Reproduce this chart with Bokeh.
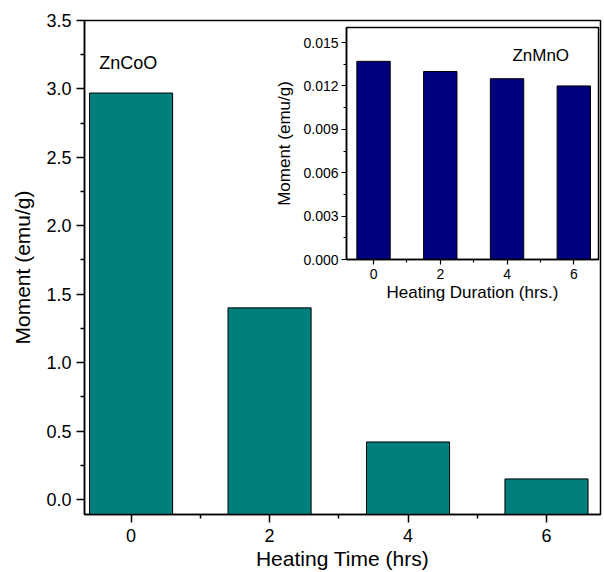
from bokeh.plotting import figure
from bokeh.models import Range1d, FixedTicker, Label
from bokeh.layouts import column
from bokeh.embed import file_html
from bokeh.resources import INLINE

# ---- data ----
hours = [0, 2, 4, 6]
zncoo_moment = [2.97, 1.40, 0.42, 0.15]
znmno_moment = [0.0137, 0.0130, 0.0125, 0.0120]
main_xticks = [0, 2, 4, 6]
main_yticks = [0.0, 0.5, 1.0, 1.5, 2.0, 2.5, 3.0, 3.5]
inset_yticks = [0.000, 0.003, 0.006, 0.009, 0.012, 0.015]
inset_ytick_labels = ["0.000", "0.003", "0.006", "0.009", "0.012", "0.015"]

FONT = "Liberation Sans"
TEAL = "#007F7D"
NAVY = "#00007F"

# ---- main figure ----
y0 = -0.11
p = figure(width=604, height=572, output_backend="svg", toolbar_location=None,
           x_range=Range1d(-0.673, 6.78), y_range=Range1d(y0, 3.5),
           min_border_left=83, min_border_right=1, min_border_top=20, min_border_bottom=57)
p.background_fill_color = "white"
p.border_fill_color = "white"
p.outline_line_color = "black"
p.outline_line_width = 1.5
p.xgrid.visible = False
p.ygrid.visible = False

p.vbar(x=hours, top=zncoo_moment, bottom=y0, width=1.2,
       fill_color=TEAL, line_color="black", line_width=1)

for ax in (p.xaxis[0], p.yaxis[0]):
    ax.axis_line_width = 1.5
    ax.major_tick_line_width = 1.5
    ax.minor_tick_line_width = 1.5
    ax.major_tick_out = 8
    ax.major_tick_in = 0
    ax.minor_tick_out = 4
    ax.minor_tick_in = 0
    ax.major_label_text_font = FONT
    ax.major_label_text_font_size = "18px"
    ax.major_label_text_color = "black"
    ax.axis_label_text_font = FONT
    ax.axis_label_text_font_size = "21px"
    ax.axis_label_text_font_style = "normal"
    ax.axis_label_text_color = "black"

p.xaxis[0].ticker = FixedTicker(ticks=main_xticks, minor_ticks=[1, 3, 5])
p.yaxis[0].ticker = FixedTicker(ticks=main_yticks,
                                minor_ticks=[0.25, 0.75, 1.25, 1.75, 2.25, 2.75, 3.25])
p.yaxis[0].major_label_overrides = {v: f"{v:.1f}" for v in main_yticks}
p.xaxis[0].axis_label = "Heating Time (hrs)"
p.yaxis[0].axis_label = "Moment (emu/g)"
p.xaxis[0].major_label_standoff = 6
p.xaxis[0].axis_label_standoff = 2
p.yaxis[0].major_label_standoff = 5
p.yaxis[0].axis_label_standoff = 9

p.add_layout(Label(x=-0.46, y=3.19, text="ZnCoO", text_font=FONT, text_font_size="18px",
                   text_baseline="middle", text_color="black"))

# ---- inset figure ----
q = figure(width=340, height=283, output_backend="svg", toolbar_location=None,
           x_range=Range1d(-0.81, 6.74), y_range=Range1d(0, 0.01604),
           min_border_left=84, min_border_right=4, min_border_top=5, min_border_bottom=46)
q.background_fill_color = "white"
q.border_fill_alpha = 0
q.outline_line_color = "black"
q.outline_line_width = 1.5
q.xgrid.visible = False
q.ygrid.visible = False

q.vbar(x=hours, top=znmno_moment, bottom=0, width=1.0,
       fill_color=NAVY, line_color="black", line_width=1)

for ax in (q.xaxis[0], q.yaxis[0]):
    ax.axis_line_width = 1.5
    ax.major_tick_line_width = 1.2
    ax.minor_tick_line_width = 1.2
    ax.major_tick_out = 5
    ax.major_tick_in = 0
    ax.minor_tick_out = 3
    ax.minor_tick_in = 0
    ax.major_label_text_font = FONT
    ax.major_label_text_font_size = "14px"
    ax.major_label_text_color = "black"
    ax.axis_label_text_font = FONT
    ax.axis_label_text_font_size = "17px"
    ax.axis_label_text_font_style = "normal"
    ax.axis_label_text_color = "black"

q.xaxis[0].ticker = FixedTicker(ticks=main_xticks, minor_ticks=[1, 3, 5])
q.yaxis[0].ticker = FixedTicker(ticks=inset_yticks,
                                minor_ticks=[0.0015, 0.0045, 0.0075, 0.0105, 0.0135])
q.yaxis[0].major_label_overrides = dict(zip(inset_yticks, inset_ytick_labels))
q.xaxis[0].axis_label = "Heating Duration (hrs.)"
q.yaxis[0].axis_label = "Moment (emu/g)"
q.xaxis[0].major_label_standoff = 4
q.xaxis[0].axis_label_standoff = 1
q.yaxis[0].major_label_standoff = 3
q.yaxis[0].axis_label_standoff = 6

q.add_layout(Label(x=4.16, y=0.0141, text="ZnMnO", text_font=FONT, text_font_size="17px",
                   text_baseline="middle", text_color="black"))

q.styles = {"position": "absolute", "left": "262px", "top": "22px"}

layout = column(p, q, styles={"position": "relative"})

open("out.html", "w").write(file_html(layout, INLINE))
